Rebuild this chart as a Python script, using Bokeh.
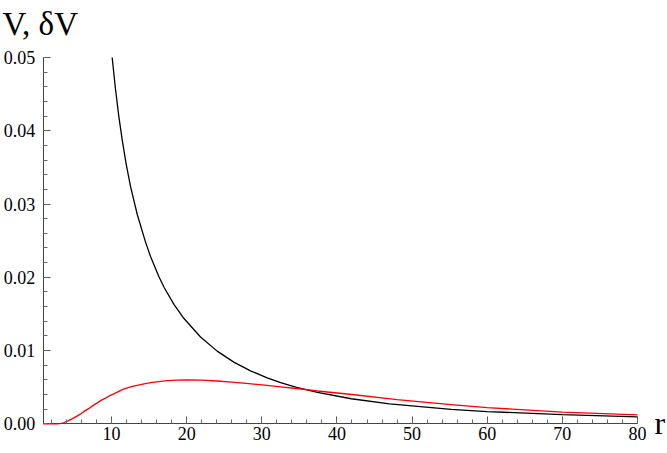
from bokeh.plotting import figure
from bokeh.models import Range1d, SingleIntervalTicker, PrintfTickFormatter, Label
from bokeh.embed import file_html
from bokeh.resources import INLINE

# Black curve: V(r)
r_black = [10.08, 10.52, 10.96, 11.41, 11.95, 12.52, 13.41, 14.52, 15.2, 16.29, 17.0,
           18.3, 19.61, 21.84, 24.06, 26.27, 28.49, 30.71, 32.5, 34.5, 37.4, 41.9,
           47.0, 55.2, 60.0, 70.0, 80.0]
v_black = [0.0500, 0.0457, 0.0420, 0.0388, 0.0354, 0.0324, 0.0286, 0.0248, 0.0228,
           0.0201, 0.0186, 0.0163, 0.0144, 0.01185, 0.00992, 0.00842, 0.00723, 0.00627,
           0.00562, 0.00501, 0.00428, 0.00342, 0.00272, 0.00197, 0.00167, 0.00124, 0.00095]

# Red curve: deltaV(r)
r_red = [0.9, 2.8, 3.3, 3.6, 4.2, 4.8, 5.4, 5.9, 6.5, 7.0, 7.5, 8.1, 8.6, 9.2, 9.7,
         10.3, 10.9, 11.5, 12.1, 12.8, 13.4, 14.0, 15.2, 16.3, 17.4, 18.7, 20.0, 22.0,
         24.1, 26.0, 28.3, 30.4, 32.5, 35.2, 37.4, 42.0, 48.0, 55.2, 60.0, 70.0, 80.0]
v_red = [0.0, 0.0, 0.00005, 0.00014, 0.0004, 0.0007, 0.00105, 0.00136, 0.0018, 0.0021,
         0.00248, 0.00286, 0.0032, 0.0035, 0.0038, 0.00409, 0.0044, 0.0047, 0.0049,
         0.0051, 0.00525, 0.00538, 0.00562, 0.00576, 0.00588, 0.00596, 0.0060, 0.00597,
         0.00584, 0.0057, 0.00548, 0.00528, 0.00505, 0.00475, 0.00448, 0.0040, 0.0033,
         0.00263, 0.0022, 0.0016, 0.00123]

x_lo, x_hi = 0.9, 80.0
y_lo, y_hi = 0.0, 0.05

FONT = "Liberation Serif"
W, H = 667, 453
# frame covers the whole canvas; axes are drawn at fixed data locations
px_left, px_right = 42.7, 637.0      # canvas x of x_lo and x_hi
px_bottom, px_top = 423.3, 57.0      # canvas y of y_lo and y_hi
sx = (px_right - px_left) / (x_hi - x_lo)
sy = (px_bottom - px_top) / (y_hi - y_lo)
xr = Range1d(x_lo - px_left / sx, x_hi + (W - px_right) / sx)
yr = Range1d(y_lo - (H - px_bottom) / sy, y_hi + px_top / sy)

p = figure(width=W, height=H, x_range=xr, y_range=yr,
           output_backend="svg", toolbar_location=None,
           min_border_left=0, min_border_right=0, min_border_top=0, min_border_bottom=0)
p.outline_line_color = None
p.xgrid.visible = False
p.ygrid.visible = False
p.background_fill_color = "white"
p.border_fill_color = "white"

p.xaxis.ticker = SingleIntervalTicker(interval=10, num_minor_ticks=5)
p.yaxis.ticker = SingleIntervalTicker(interval=0.01, num_minor_ticks=5)
p.yaxis.formatter = PrintfTickFormatter(format="%.2f")
p.xaxis.fixed_location = y_lo
p.yaxis.fixed_location = x_lo
p.xaxis.bounds = (x_lo, x_hi)
p.yaxis.bounds = (y_lo, y_hi)

for ax in (p.xaxis, p.yaxis):
    ax.axis_line_color = "#444444"
    ax.axis_line_width = 1
    ax.major_tick_line_color = "#555555"
    ax.minor_tick_line_color = "#666666"
    ax.major_tick_in = 7
    ax.major_tick_out = 0
    ax.minor_tick_in = 4
    ax.minor_tick_out = 0
    ax.major_label_text_font = FONT
    ax.major_label_text_font_size = "18px"
    ax.major_label_text_color = "black"
p.xaxis.major_label_standoff = 3
p.yaxis.major_label_standoff = 8

p.line(r_black, v_black, line_color="black", line_width=1.3)
p.line(r_red, v_red, line_color="#ff0000", line_width=1.3)

p.add_layout(Label(x=xr.start + 2 / sx, y=yr.end - 23 / sy, text="V, δV",
                   text_font=FONT, text_font_size="33px", text_color="black",
                   text_baseline="alphabetic"))
p.add_layout(Label(x=xr.start + 654 / sx, y=y_lo + 0.5 / sy, text="r",
                   text_font=FONT, text_font_size="32px", text_color="black",
                   text_baseline="alphabetic"))

open("out.html", "w").write(file_html(p, INLINE))
